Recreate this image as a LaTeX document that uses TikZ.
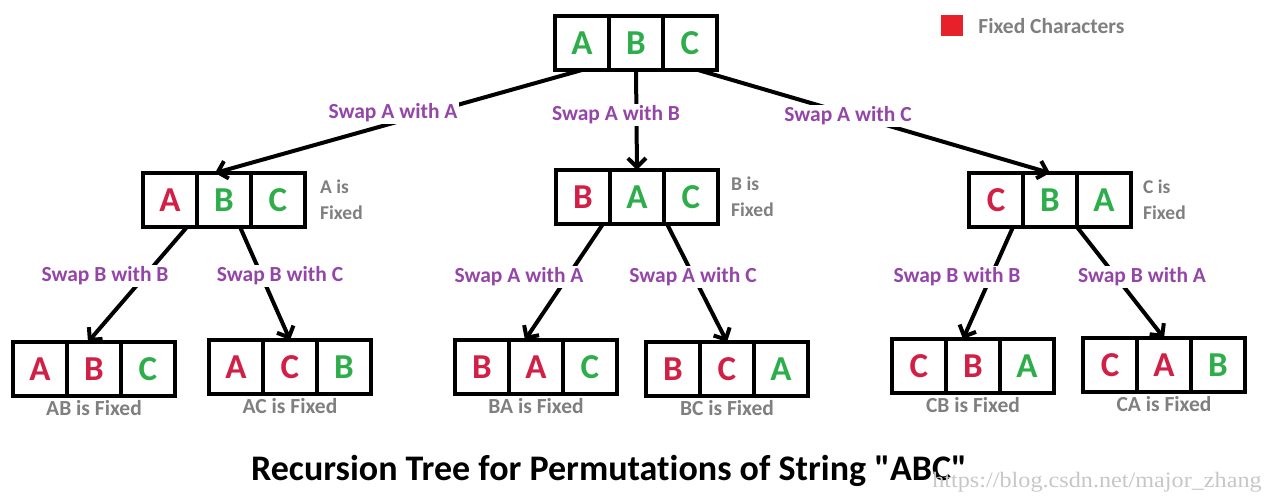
\documentclass[tikz,border=0pt]{standalone}
\usepackage{fontspec}
\setmainfont{Carlito}[Ligatures={TeXOff,NoCommon}]
\newfontfamily\markfont{Liberation Serif}
\usetikzlibrary{arrows.meta, positioning}
\definecolor{fixred}{HTML}{D11F45}
\definecolor{freegreen}{HTML}{2EAE4A}
\definecolor{swapviolet}{HTML}{9446A8}
\definecolor{notegray}{HTML}{7F7F7F}
\definecolor{keyred}{HTML}{E8202A}

\begin{document}
\begin{tikzpicture}[
		x=1pt, y=-1pt,
		>={Straight Barb[length=9pt,width=18pt]},
		node distance=0pt,
		cell/.style={draw, line width=4pt, outer sep=0pt, inner sep=0pt, minimum width=54pt, minimum height=54pt, font=\bfseries\fontsize{35}{35}\selectfont},
		fixcell/.style={cell, text=fixred},
		freecell/.style={cell, text=freegreen},
		swap/.style={fill=white, text=swapviolet, inner sep=2pt, font=\bfseries\fontsize{21.5}{24}\selectfont},
		note/.style={text=notegray, align=left, inner sep=0pt, font=\bfseries\fontsize{19.5}{26}\selectfont},
		result/.style={note, font=\bfseries\fontsize{21.5}{24}\selectfont},
		link/.style={->, line width=4pt}
	]
	\useasboundingbox (0,0) rectangle (1274,502);

	% Root
	\node[freecell] (t2) at (636,43) {B};
	\node[freecell, left=of t2] (t1) {A};
	\node[freecell, right=of t2] (t3) {C};

	% Level 1
	\node[freecell] (a2) at (224,200) {B};
	\node[fixcell, left=of a2] (a1) {A};
	\node[freecell, right=of a2] (a3) {C};

	\node[freecell] (b2) at (637,197) {A};
	\node[fixcell, left=of b2] (b1) {B};
	\node[freecell, right=of b2] (b3) {C};

	\node[freecell] (c2) at (1050,200) {B};
	\node[fixcell, left=of c2] (c1) {C};
	\node[freecell, right=of c2] (c3) {A};

	% Level 2
	\node[fixcell] (d2) at (94,369) {B};
	\node[fixcell, left=of d2] (d1) {A};
	\node[freecell, right=of d2] (d3) {C};

	\node[fixcell] (e2) at (290,367) {C};
	\node[fixcell, left=of e2] (e1) {A};
	\node[freecell, right=of e2] (e3) {B};

	\node[fixcell] (f2) at (536,367) {A};
	\node[fixcell, left=of f2] (f1) {B};
	\node[freecell, right=of f2] (f3) {C};

	\node[fixcell] (g2) at (727,369) {C};
	\node[fixcell, left=of g2] (g1) {B};
	\node[freecell, right=of g2] (g3) {A};

	\node[fixcell] (h2) at (973,366) {B};
	\node[fixcell, left=of h2] (h1) {C};
	\node[freecell, right=of h2] (h3) {A};

	\node[fixcell] (i2) at (1164,365) {A};
	\node[fixcell, left=of i2] (i1) {C};
	\node[freecell, right=of i2] (i3) {B};

	% Arrows
	\draw[link] (t1.south) -- ([xshift=-9pt]a2.north);
	\draw[link] (t2.south) -- (b2.north);
	\draw[link] ([xshift=8pt]t3.south) -- (c2.north);

	\draw[link] ([xshift=-10pt]a1.south east) -- ([xshift=-6pt]d2.north);
	\draw[link] ([xshift=-11pt]a2.south east) -- (e2.north);
	\draw[link] ([xshift=-7pt]b1.south east) -- ([xshift=-11pt]f2.north);
	\draw[link] ([xshift=3pt]b2.south east) -- (g2.north);
	\draw[link] ([xshift=-10pt]c1.south east) -- ([xshift=-10pt]h2.north);
	\draw[link] (c2.south east) -- (i2.north);

	% Swap labels
	\node[swap] (s1) at (393,113) {Swap A with A};
	\node[swap] (s2) at (616,115) {Swap A with B};
	\node[swap] (s3) at (848,116) {Swap A with C};
	\node[swap] (s4) at (105,276) {Swap B with B};
	\node[swap] (s5) at (280,276) {Swap B with C};
	\node[swap] (s6) at (519,277) {Swap A with A};
	\node[swap] (s7) at (693,277) {Swap A with C};
	\node[swap] (s8) at (957,277) {Swap B with B};
	\node[swap] (s9) at (1142,277) {Swap B with A};

	% Fixed notes
	\node[note, right=15pt of a3] (anote) {A is\\Fixed};
	\node[note, right=13pt of b3] (bnote) {B is\\Fixed};
	\node[note, right=12pt of c3] (cnote) {C is\\Fixed};

	\node[result, below=4pt of d2] (dnote) {AB is Fixed};
	\node[result, below=4pt of e2] (enote) {AC is Fixed};
	\node[result, below=4pt of f2] (fnote) {BA is Fixed};
	\node[result, below=4pt of g2] (gnote) {BC is Fixed};
	\node[result, below=4pt of h2] (hnote) {CB is Fixed};
	\node[result, below=4pt of i2] (inote) {CA is Fixed};

	% Legend
	\node[fill=keyred, minimum width=22pt, minimum height=21pt, inner sep=0pt] (key) at (952,26) {};
	\node[result, right=15pt of key] (keytext) {Fixed Characters};

	% Title
	\node[font=\bfseries\fontsize{36}{40}\selectfont] (title) at (609,471) {Recursion Tree for Permutations of String "ABC"};
	\node[text=black!22, font=\markfont\fontsize{22}{22}\selectfont, xscale=1.1] (mark) at (1097,482) {https://blog.csdn.net/major\_zhang};

\end{tikzpicture}
\end{document}
